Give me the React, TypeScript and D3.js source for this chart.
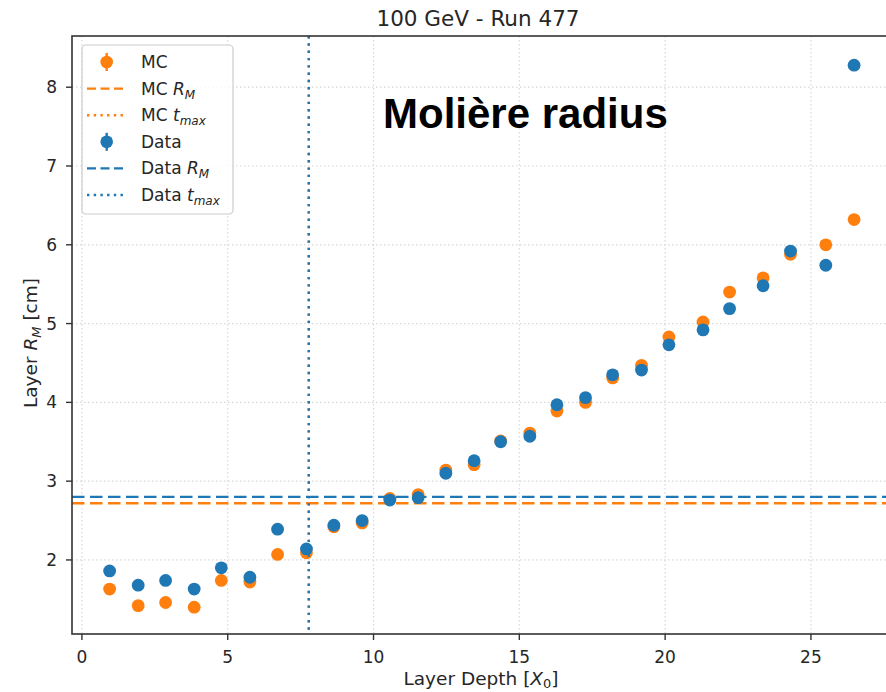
import React from "react";
import * as d3 from "d3";

const layerDepth = [0.95, 1.93, 2.87, 3.85, 4.78, 5.76, 6.71, 7.7, 8.64, 9.61, 10.56, 11.53, 12.48, 13.45, 14.36, 15.36, 16.29, 17.27, 18.2, 19.19, 20.13, 21.3, 22.21, 23.36, 24.3, 25.51, 26.48];
const mcRadius = [1.63, 1.42, 1.46, 1.4, 1.74, 1.72, 2.07, 2.09, 2.42, 2.47, 2.78, 2.83, 3.14, 3.21, 3.51, 3.61, 3.89, 4.0, 4.31, 4.47, 4.83, 5.02, 5.4, 5.58, 5.88, 6.0, 6.32];
const dataRadius = [1.86, 1.68, 1.74, 1.63, 1.9, 1.78, 2.39, 2.14, 2.44, 2.5, 2.76, 2.79, 3.1, 3.26, 3.5, 3.57, 3.97, 4.06, 4.35, 4.41, 4.73, 4.92, 5.19, 5.48, 5.92, 5.74, 8.28];
const mcRM = 2.72;
const dataRM = 2.8;
const mcTmax = 7.78;
const dataTmax = 7.78;
const xTicks = [0, 5, 10, 15, 20, 25];
const yTicks = [2, 3, 4, 5, 6, 7, 8];

const ORANGE = "#ff7f0e";
const BLUE = "#1f77b4";
const FONT = "'DejaVu Sans', sans-serif";

export default function App() {
  const W = 886, H = 692;
  const left = 72, right = 892, top = 36, bottom = 634;
  const x = d3.scaleLinear().domain([-0.34, 27.78]).range([left, right]);
  const y = d3.scaleLinear().domain([1.06, 8.65]).range([bottom, top]);

  const legendItems = [
    { kind: "marker", color: ORANGE, label: "MC", sub: null },
    { kind: "dash", color: ORANGE, label: "MC ", math: "R", sub: "M" },
    { kind: "dot", color: ORANGE, label: "MC ", math: "t", sub: "max" },
    { kind: "marker", color: BLUE, label: "Data", sub: null },
    { kind: "dash", color: BLUE, label: "Data ", math: "R", sub: "M" },
    { kind: "dot", color: BLUE, label: "Data ", math: "t", sub: "max" },
  ];

  return (
    <svg width={W} height={H} style={{ position: "absolute", left: 0, top: 0, background: "#fff" }} fontFamily={FONT}>
      <defs>
        <clipPath id="plotclip">
          <rect x={left} y={top} width={right - left} height={bottom - top} />
        </clipPath>
      </defs>
      {/* grid */}
      <g stroke="#c8c8c8" strokeWidth={1.2} strokeDasharray="1.5 2.5" opacity={0.7}>
        {xTicks.map((t) => (
          <line key={"gx" + t} x1={x(t)} x2={x(t)} y1={top} y2={bottom} />
        ))}
        {yTicks.map((t) => (
          <line key={"gy" + t} x1={left} x2={right} y1={y(t)} y2={y(t)} />
        ))}
      </g>
      <g clipPath="url(#plotclip)">
        {/* MC */}
        {layerDepth.map((d, i) => (
          <circle key={"mc" + i} cx={x(d)} cy={y(mcRadius[i])} r={6.4} fill={ORANGE} />
        ))}
        <line x1={left} x2={right} y1={y(mcRM)} y2={y(mcRM)} stroke={ORANGE} strokeWidth={2.4} strokeDasharray="12.5 5.5" />
        <line x1={x(mcTmax)} x2={x(mcTmax)} y1={top} y2={bottom} stroke={ORANGE} strokeWidth={2.4} strokeDasharray="2.4 4.9" />
        {/* Data */}
        {layerDepth.map((d, i) => (
          <circle key={"da" + i} cx={x(d)} cy={y(dataRadius[i])} r={6.4} fill={BLUE} />
        ))}
        <line x1={left} x2={right} y1={y(dataRM)} y2={y(dataRM)} stroke={BLUE} strokeWidth={2.4} strokeDasharray="12.5 5.5" />
        <line x1={x(dataTmax)} x2={x(dataTmax)} y1={top} y2={bottom} stroke={BLUE} strokeWidth={2.4} strokeDasharray="2.4 4.9" />
      </g>
      {/* spines */}
      <rect x={left} y={top} width={right - left} height={bottom - top} fill="none" stroke="#333" strokeWidth={1.6} />
      {/* x ticks */}
      {xTicks.map((t) => (
        <g key={"xt" + t}>
          <line x1={x(t)} x2={x(t)} y1={bottom} y2={bottom + 6} stroke="#333" strokeWidth={1.4} />
          <text x={x(t)} y={bottom + 29} fontSize={17} textAnchor="middle" fill="#262626">{t}</text>
        </g>
      ))}
      {yTicks.map((t) => (
        <g key={"yt" + t}>
          <line x1={left - 6} x2={left} y1={y(t)} y2={y(t)} stroke="#333" strokeWidth={1.4} />
          <text x={left - 15} y={y(t) + 6} fontSize={17} textAnchor="end" fill="#262626">{t}</text>
        </g>
      ))}
      {/* axis labels */}
      <text x={481} y={685} fontSize={18.5} textAnchor="middle" fill="#262626">
        Layer Depth [<tspan fontStyle="italic">X</tspan><tspan fontSize={13} dy={2.5}>0</tspan><tspan dy={-2.5}>]</tspan>
      </text>
      <text transform={`translate(37, ${(top + bottom) / 2 + 8}) rotate(-90)`} fontSize={18.5} textAnchor="middle" fill="#262626">
        Layer <tspan fontStyle="italic">R</tspan><tspan fontSize={13} fontStyle="italic" dy={4}>M</tspan><tspan dy={-4}> [cm]</tspan>
      </text>
      {/* title */}
      <text x={(left + 884) / 2} y={26} fontSize={21.5} textAnchor="middle" fill="#262626">100 GeV - Run 477</text>
      {/* annotation */}
      <text x={383} y={128} fontSize={42} fontWeight="bold" fontFamily="'Liberation Sans', Arial, sans-serif" fill="#000">Molière radius</text>
      {/* legend */}
      <rect x={82} y={45} width={151} height={169} rx={4} fill="#fff" fillOpacity={0.8} stroke="#cccccc" strokeWidth={1.2} />
      {legendItems.map((it, i) => {
        const cy = 62 + i * 26.6;
        return (
          <g key={"lg" + i}>
            {it.kind === "marker" && (
              <g>
                <line x1={106.7} x2={106.7} y1={cy - 9} y2={cy + 9} stroke={it.color} strokeWidth={2.4} />
                <circle cx={106.7} cy={cy} r={6.3} fill={it.color} />
              </g>
            )}
            {it.kind === "dash" && (
              <line x1={87} x2={125} y1={cy} y2={cy} stroke={it.color} strokeWidth={2.4} strokeDasharray="9 4.5" />
            )}
            {it.kind === "dot" && (
              <line x1={87} x2={125} y1={cy} y2={cy} stroke={it.color} strokeWidth={2.4} strokeDasharray="2.4 4.3" />
            )}
            <text x={141} y={cy + 6} fontSize={17} fill="#262626">
              {it.label}
              {it.math && <tspan fontStyle="italic">{it.math}</tspan>}
              {it.sub && (
                <tspan fontSize={12} fontStyle="italic" dy={4}>{it.sub}</tspan>
              )}
            </text>
          </g>
        );
      })}
    </svg>
  );
}
